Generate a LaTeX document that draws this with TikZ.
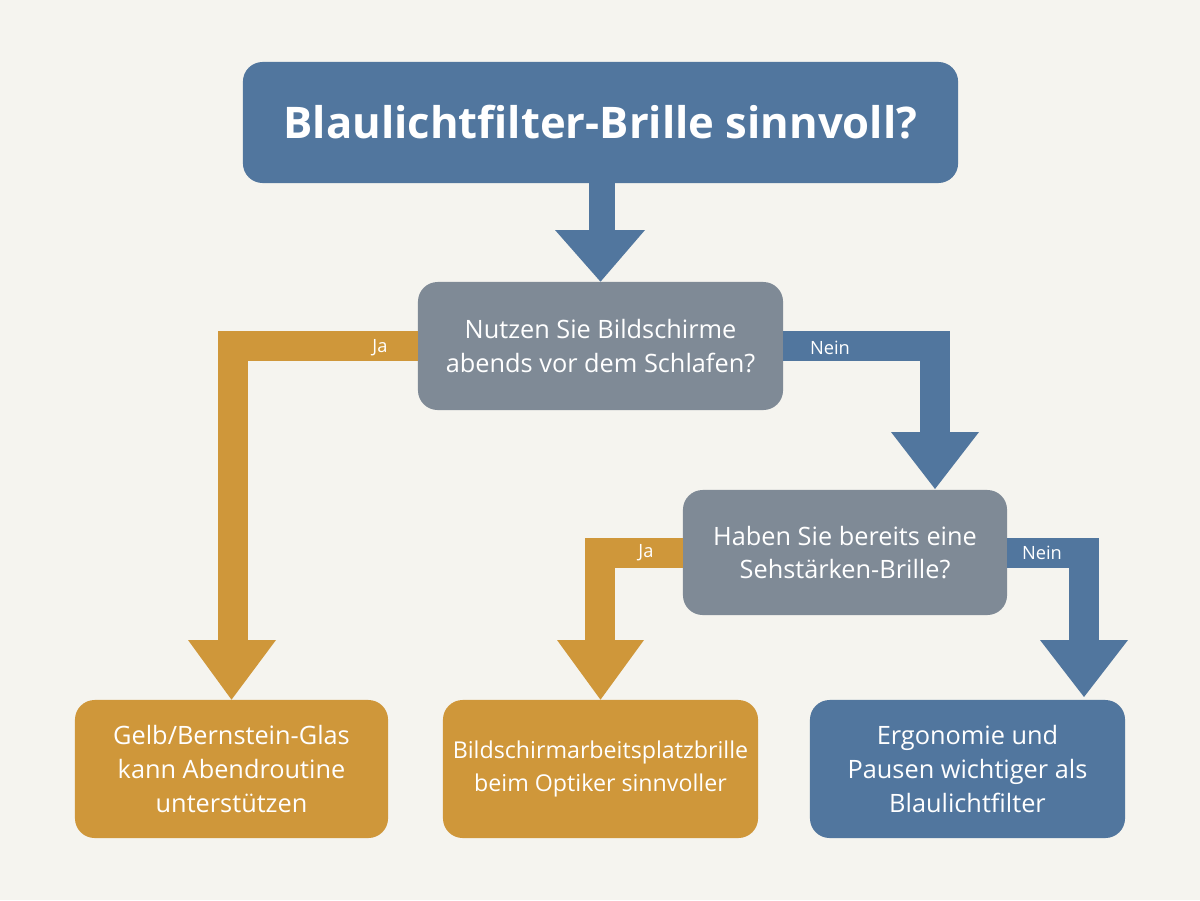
\documentclass[tikz,border=0pt]{standalone}
\usepackage{fontspec}
\setmainfont{Open Sans}
\begin{document}
\definecolor{bg}{HTML}{F5F4EF}
\definecolor{bl}{HTML}{51769E}
\definecolor{gr}{HTML}{7F8A96}
\definecolor{or}{HTML}{CF973A}
\begin{tikzpicture}[x=0.025cm,y=-0.025cm,
 box/.style={rounded corners=14pt,text=white,align=center,inner sep=0pt,font=\fontsize{18}{24}\selectfont},
 lab/.style={text=white,font=\fontsize{13}{15}\selectfont},
 conn/.style={line width=0.75cm,line join=miter},
 ]
\fill[bg] (0,0) rectangle (1200,900);
\useasboundingbox (0,0) rectangle (1200,900);
% boxes
\node[box,fill=bl,minimum width=17.875cm,minimum height=3.025cm,font=\bfseries\fontsize{31}{36}\selectfont] (t) at (600.5,122.5) {Blaulichtfilter-Brille sinnvoll?};
\node[box,fill=gr,minimum width=9.125cm,minimum height=3.2cm] (q1) at (600.5,346) {Nutzen Sie Bildschirme\\abends vor dem Schlafen?};
\node[box,fill=gr,minimum width=8.1cm,minimum height=3.125cm] (q2) at (845,552.5) {Haben Sie bereits eine\\Sehstärken-Brille?};
\node[box,fill=or,minimum width=7.825cm,minimum height=3.45cm] (a) at (231.5,769) {Gelb/Bernstein-Glas\\kann Abendroutine\\unterstützen};
\node[box,fill=or,minimum width=7.875cm,minimum height=3.45cm,font=\fontsize{16.5}{24}\selectfont] (b) at (600.5,769) {Bildschirmarbeitsplatzbrille\\beim Optiker sinnvoller};
\node[box,fill=bl,minimum width=7.875cm,minimum height=3.45cm] (c) at (967.5,769) {Ergonomie und\\Pausen wichtiger als\\Blaulichtfilter};
% arrow title -> q1
\fill[bl] (t.south)++(-12,0) rectangle ++(26,48);
\fill[bl] (555,230) -- (645,230) -- (q1.north) -- cycle;
% q1 -> a (Ja)
\draw[conn,or] (q1.west|-0,346) -- (233,346) -- (233,641);
\fill[or] (188,640) -- (276,640) -- (a.north) -- cycle;
% q1 -> q2 (Nein)
\draw[conn,bl] (q1.east|-0,346) -- (935,346) -- (935,433);
\fill[bl] (891,432) -- (979,432) -- (935,489) -- cycle;
% q2 -> b
\draw[conn,or] (q2.west|-0,553) -- (600,553) -- (600,641);
\fill[or] (557,640) -- (644,640) -- (b.north) -- cycle;
% q2 -> c
\draw[conn,bl] (q2.east|-0,553) -- (1084,553) -- (1084,641);
\fill[bl] (1040,640) -- (1128,640) -- (1084,697) -- cycle;
% labels
\node[lab] (l1) at (380,348) {Ja};
\node[lab] (l2) at (830,348) {Nein};
\node[lab] (l3) at (646,553) {Ja};
\node[lab] (l4) at (1042,553) {Nein};
\end{tikzpicture}
\end{document}
